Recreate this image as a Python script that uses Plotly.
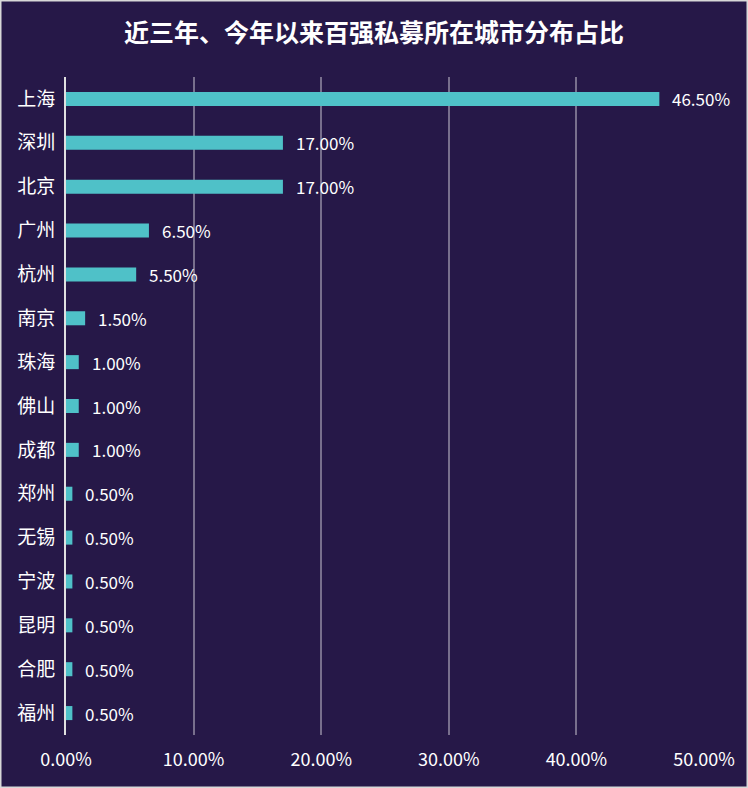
import plotly.graph_objects as go

cities = ["上海", "深圳", "北京", "广州", "杭州", "南京", "珠海", "佛山", "成都",
          "郑州", "无锡", "宁波", "昆明", "合肥", "福州"]
shares = [46.5, 17.0, 17.0, 6.5, 5.5, 1.5, 1.0, 1.0, 1.0, 0.5, 0.5, 0.5, 0.5, 0.5, 0.5]
x_ticks = [0, 10, 20, 30, 40, 50]
x_tick_labels = ["0.00%", "10.00%", "20.00%", "30.00%", "40.00%", "50.00%"]
title = "近三年、今年以来百强私募所在城市分布占比"

FONT = "Noto Sans CJK SC"
BG = "#261848"
BAR = "#4fc1c8"

fig = go.Figure()
fig.add_trace(go.Bar(
    x=shares, y=cities, orientation="h",
    marker=dict(color=BAR, line=dict(width=0)),
    width=0.32, hoverinfo="skip",
))

for c, v in zip(cities, shares):
    fig.add_annotation(x=v, y=c, text=f"{v:.2f}%", showarrow=False,
                       xanchor="left", yanchor="middle", xshift=11,
                       font=dict(family=FONT, size=17, color="white"))

fig.update_layout(
    width=748, height=788,
    paper_bgcolor=BG, plot_bgcolor=BG,
    margin=dict(l=66, r=44, t=77, b=53),
    showlegend=False,
    title=dict(text=f"<b>{title}</b>", x=0.5, xanchor="center", y=1 - 33 / 788,
               yanchor="middle", font=dict(family=FONT, size=25, color="white")),
    xaxis=dict(range=[0, 50], tickvals=x_ticks, ticktext=x_tick_labels,
               showgrid=True, gridcolor="rgba(255,255,255,0.38)", gridwidth=1.5,
               zeroline=False, showline=False, ticks="",
               tickfont=dict(family=FONT, size=18, color="white"), ticklabelstandoff=12),
    yaxis=dict(autorange="reversed", showgrid=False, zeroline=False,
               showline=True, linecolor="#e0e0e0", linewidth=2, ticks="",
               tickfont=dict(family=FONT, size=19, color="white"),
               ticklabelstandoff=5),
    font=dict(family=FONT, color="white"),
)

fig.add_shape(type="rect", xref="paper", yref="paper",
              x0=-66 / 638 + 0.0008, x1=1 + 44 / 638 - 0.0008,
              y0=-53 / 658 + 0.0008, y1=1 + 77 / 658 - 0.0008,
              line=dict(color="#d8d8d8", width=2), layer="above")

fig.write_html("out.html", config={"displayModeBar": False},
               post_script="document.body.style.margin='0';document.body.style.overflow='hidden';")
